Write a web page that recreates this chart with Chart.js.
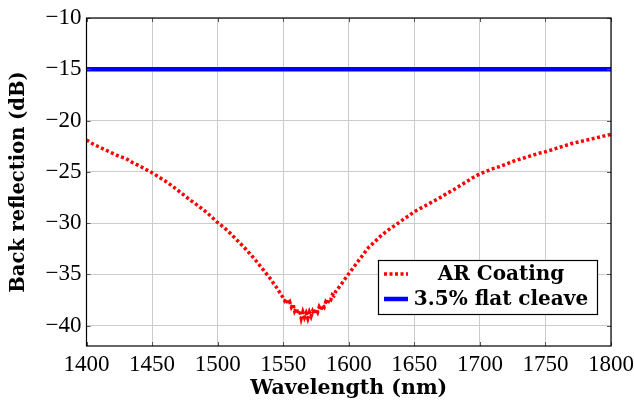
<!DOCTYPE html>
<html>
<head>
<meta charset="utf-8">
<script src="https://cdn.jsdelivr.net/npm/chart.js@4/dist/chart.umd.min.js"></script>
<style>
  html, body { margin: 0; padding: 0; background: #fff; }
  #wrap { width: 634px; height: 404px; position: relative; }
</style>
</head>
<body>
<div id="wrap"><canvas id="chart" width="634" height="404"></canvas></div>
<script>
// wavelength (nm) and AR coating back reflection (dB)
const wavelength = [
  1400, 1405, 1410, 1415, 1420, 1425, 1430, 1435, 1440, 1445,
  1450, 1455, 1460, 1465, 1470, 1475, 1480, 1485, 1490, 1495,
  1500, 1505, 1510, 1515, 1520, 1525, 1530, 1535, 1540, 1545,
  1550, 1551.25, 1552.5, 1553.75, 1555, 1556.25, 1557.5, 1558.75, 1560, 1561.25,
  1562.5, 1563.75, 1565, 1566.25, 1567.5, 1568.75, 1570, 1571.25, 1572.5, 1573.75,
  1575, 1576.25, 1577.5, 1578.75, 1580, 1581.25, 1582.5, 1583.75, 1585, 1586.25,
  1587.5, 1588.75, 1590, 1595, 1600, 1605, 1610, 1615, 1620, 1625,
  1630, 1635, 1640, 1645, 1650, 1655, 1660, 1665, 1670, 1675,
  1680, 1685, 1690, 1695, 1700, 1705, 1710, 1715, 1720, 1725,
  1730, 1735, 1740, 1745, 1750, 1755, 1760, 1765, 1770, 1775,
  1780, 1785, 1790, 1795, 1800
];
const arCoating = [
  -21.9, -22.3, -22.6, -22.9, -23.2, -23.5, -23.7, -24.1, -24.4, -24.75,
  -25.1, -25.5, -25.9, -26.35, -26.85, -27.35, -27.85, -28.3, -28.8, -29.35,
  -29.95, -30.45, -31.05, -31.7, -32.35, -33.05, -33.8, -34.6, -35.4, -36.3,
  -37.3, -37.6, -37.4, -37.9, -37.7, -38.2, -37.9, -38.6, -38.3, -38.9,
  -38.5, -39.3, -38.7, -39.2, -38.8, -39.3, -38.7, -39.1, -38.6, -38.9,
  -38.4, -38.7, -38.2, -38.5, -38.0, -38.2, -37.7, -37.9, -37.4, -37.5,
  -37.0, -37.1, -36.7, -35.85, -34.95, -34.1, -33.25, -32.4, -31.8, -31.2,
  -30.7, -30.25, -29.8, -29.35, -28.9, -28.55, -28.2, -27.85, -27.5, -27.1,
  -26.75, -26.35, -25.95, -25.55, -25.2, -24.95, -24.7, -24.5, -24.25, -24.0,
  -23.8, -23.6, -23.4, -23.2, -23.05, -22.85, -22.65, -22.45, -22.25, -22.1,
  -21.95, -21.8, -21.65, -21.5, -21.35
];
const cleaveWavelength = [1400, 1800];
const flatCleave = [-15, -15];

const seriesLabels = ["AR Coating", "3.5% flat cleave"];
const xTitle = "Wavelength (nm)";
const yTitle = "Back reflection (dB)";

const SERIF = "'Liberation Serif', 'DejaVu Serif', serif";
const TITLE_FONT = "'DejaVu Serif', serif";

const toPoints = (xs, ys) => xs.map((x, i) => ({ x: x, y: ys[i] }));

// frame, inner tick marks and the boxed legend like pgfplots
const framePlugin = {
  id: "frame",
  afterDraw(chart) {
    const { ctx, chartArea: a, scales } = chart;
    ctx.save();
    ctx.strokeStyle = "#555";
    ctx.lineWidth = 1;
    ctx.beginPath();
    scales.x.ticks.forEach(t => {
      const px = Math.round(scales.x.getPixelForValue(t.value)) + 0.5;
      ctx.moveTo(px, a.bottom); ctx.lineTo(px, a.bottom - 4);
      ctx.moveTo(px, a.top); ctx.lineTo(px, a.top + 4);
    });
    scales.y.ticks.forEach(t => {
      const py = Math.round(scales.y.getPixelForValue(t.value)) + 0.5;
      ctx.moveTo(a.left, py); ctx.lineTo(a.left + 4, py);
      ctx.moveTo(a.right, py); ctx.lineTo(a.right - 4, py);
    });
    ctx.stroke();

    ctx.strokeStyle = "#000";
    ctx.lineWidth = 1.2;
    ctx.strokeRect(a.left, a.top, a.right - a.left, a.bottom - a.top);

    // legend box, bottom right inside the plot
    const bw = 219, bh = 54;
    const bx = a.right - 14 - bw, by = a.bottom - 32 - bh;
    ctx.fillStyle = "#fff";
    ctx.fillRect(bx, by, bw, bh);
    ctx.strokeStyle = "#000";
    ctx.lineWidth = 1.2;
    ctx.strokeRect(bx + 0.5, by + 0.5, bw, bh);

    const rows = [by + 14, by + 39];
    chart.data.datasets.forEach((ds, i) => {
      ctx.save();
      ctx.strokeStyle = ds.borderColor;
      ctx.lineWidth = ds.borderWidth;
      ctx.setLineDash(ds.borderDash || []);
      ctx.beginPath();
      ctx.moveTo(bx + 6, rows[i]);
      ctx.lineTo(bx + 30, rows[i]);
      ctx.stroke();
      ctx.restore();
      ctx.fillStyle = "#000";
      ctx.font = "bold 20px " + TITLE_FONT;
      ctx.textAlign = "center";
      ctx.textBaseline = "middle";
      ctx.fillText(ds.label, bx + 123, rows[i] + 1);
    });
    ctx.restore();
  }
};

new Chart(document.getElementById("chart"), {
  type: "line",
  data: {
    datasets: [
      {
        label: seriesLabels[0],
        data: toPoints(wavelength, arCoating),
        borderColor: "#ff0000",
        borderWidth: 3.5,
        borderDash: [3, 2.5],
        pointRadius: 0,
        tension: 0,
        fill: false
      },
      {
        label: seriesLabels[1],
        data: toPoints(cleaveWavelength, flatCleave),
        borderColor: "#0000ff",
        borderWidth: 4.5,
        pointRadius: 0,
        fill: false
      }
    ]
  },
  options: {
    responsive: false,
    animation: false,
    layout: { padding: { left: 0, top: 18, right: 0, bottom: 0 } },
    plugins: {
      legend: { display: false },
      tooltip: { enabled: false }
    },
    scales: {
      x: {
        type: "linear",
        min: 1400,
        max: 1800,
        grid: { color: "#cccccc", lineWidth: 1, drawTicks: false },
        border: { display: false },
        ticks: {
          stepSize: 50,
          padding: 5,
          color: "#000",
          font: { family: SERIF, size: 23 },
          callback: v => String(v)
        },
        title: {
          display: true,
          text: xTitle,
          color: "#000",
          font: { family: TITLE_FONT, size: 20.5, weight: "bold" },
          padding: { top: 0, bottom: 3 }
        },
        afterFit(scale) {
          scale.height = 58;
          scale.paddingLeft = 0;
          scale.paddingRight = 23;
        }
      },
      y: {
        type: "linear",
        min: -42,
        max: -10,
        grid: { color: "#cccccc", lineWidth: 1, drawTicks: false },
        border: { display: false },
        ticks: {
          stepSize: 5,
          includeBounds: false,
          padding: 5,
          color: "#000",
          font: { family: SERIF, size: 23 },
          callback: v => (v < 0 ? "\u2212" + Math.abs(v) : String(v))
        },
        title: {
          display: true,
          text: yTitle,
          color: "#000",
          font: { family: TITLE_FONT, size: 19.5, weight: "bold" },
          padding: { top: 7, bottom: 0 }
        },
        afterFit(scale) {
          scale.width = 86.5;
          scale.paddingTop = 0;
          scale.paddingBottom = 0;
        }
      }
    }
  },
  plugins: [framePlugin]
});
</script>
</body>
</html>
